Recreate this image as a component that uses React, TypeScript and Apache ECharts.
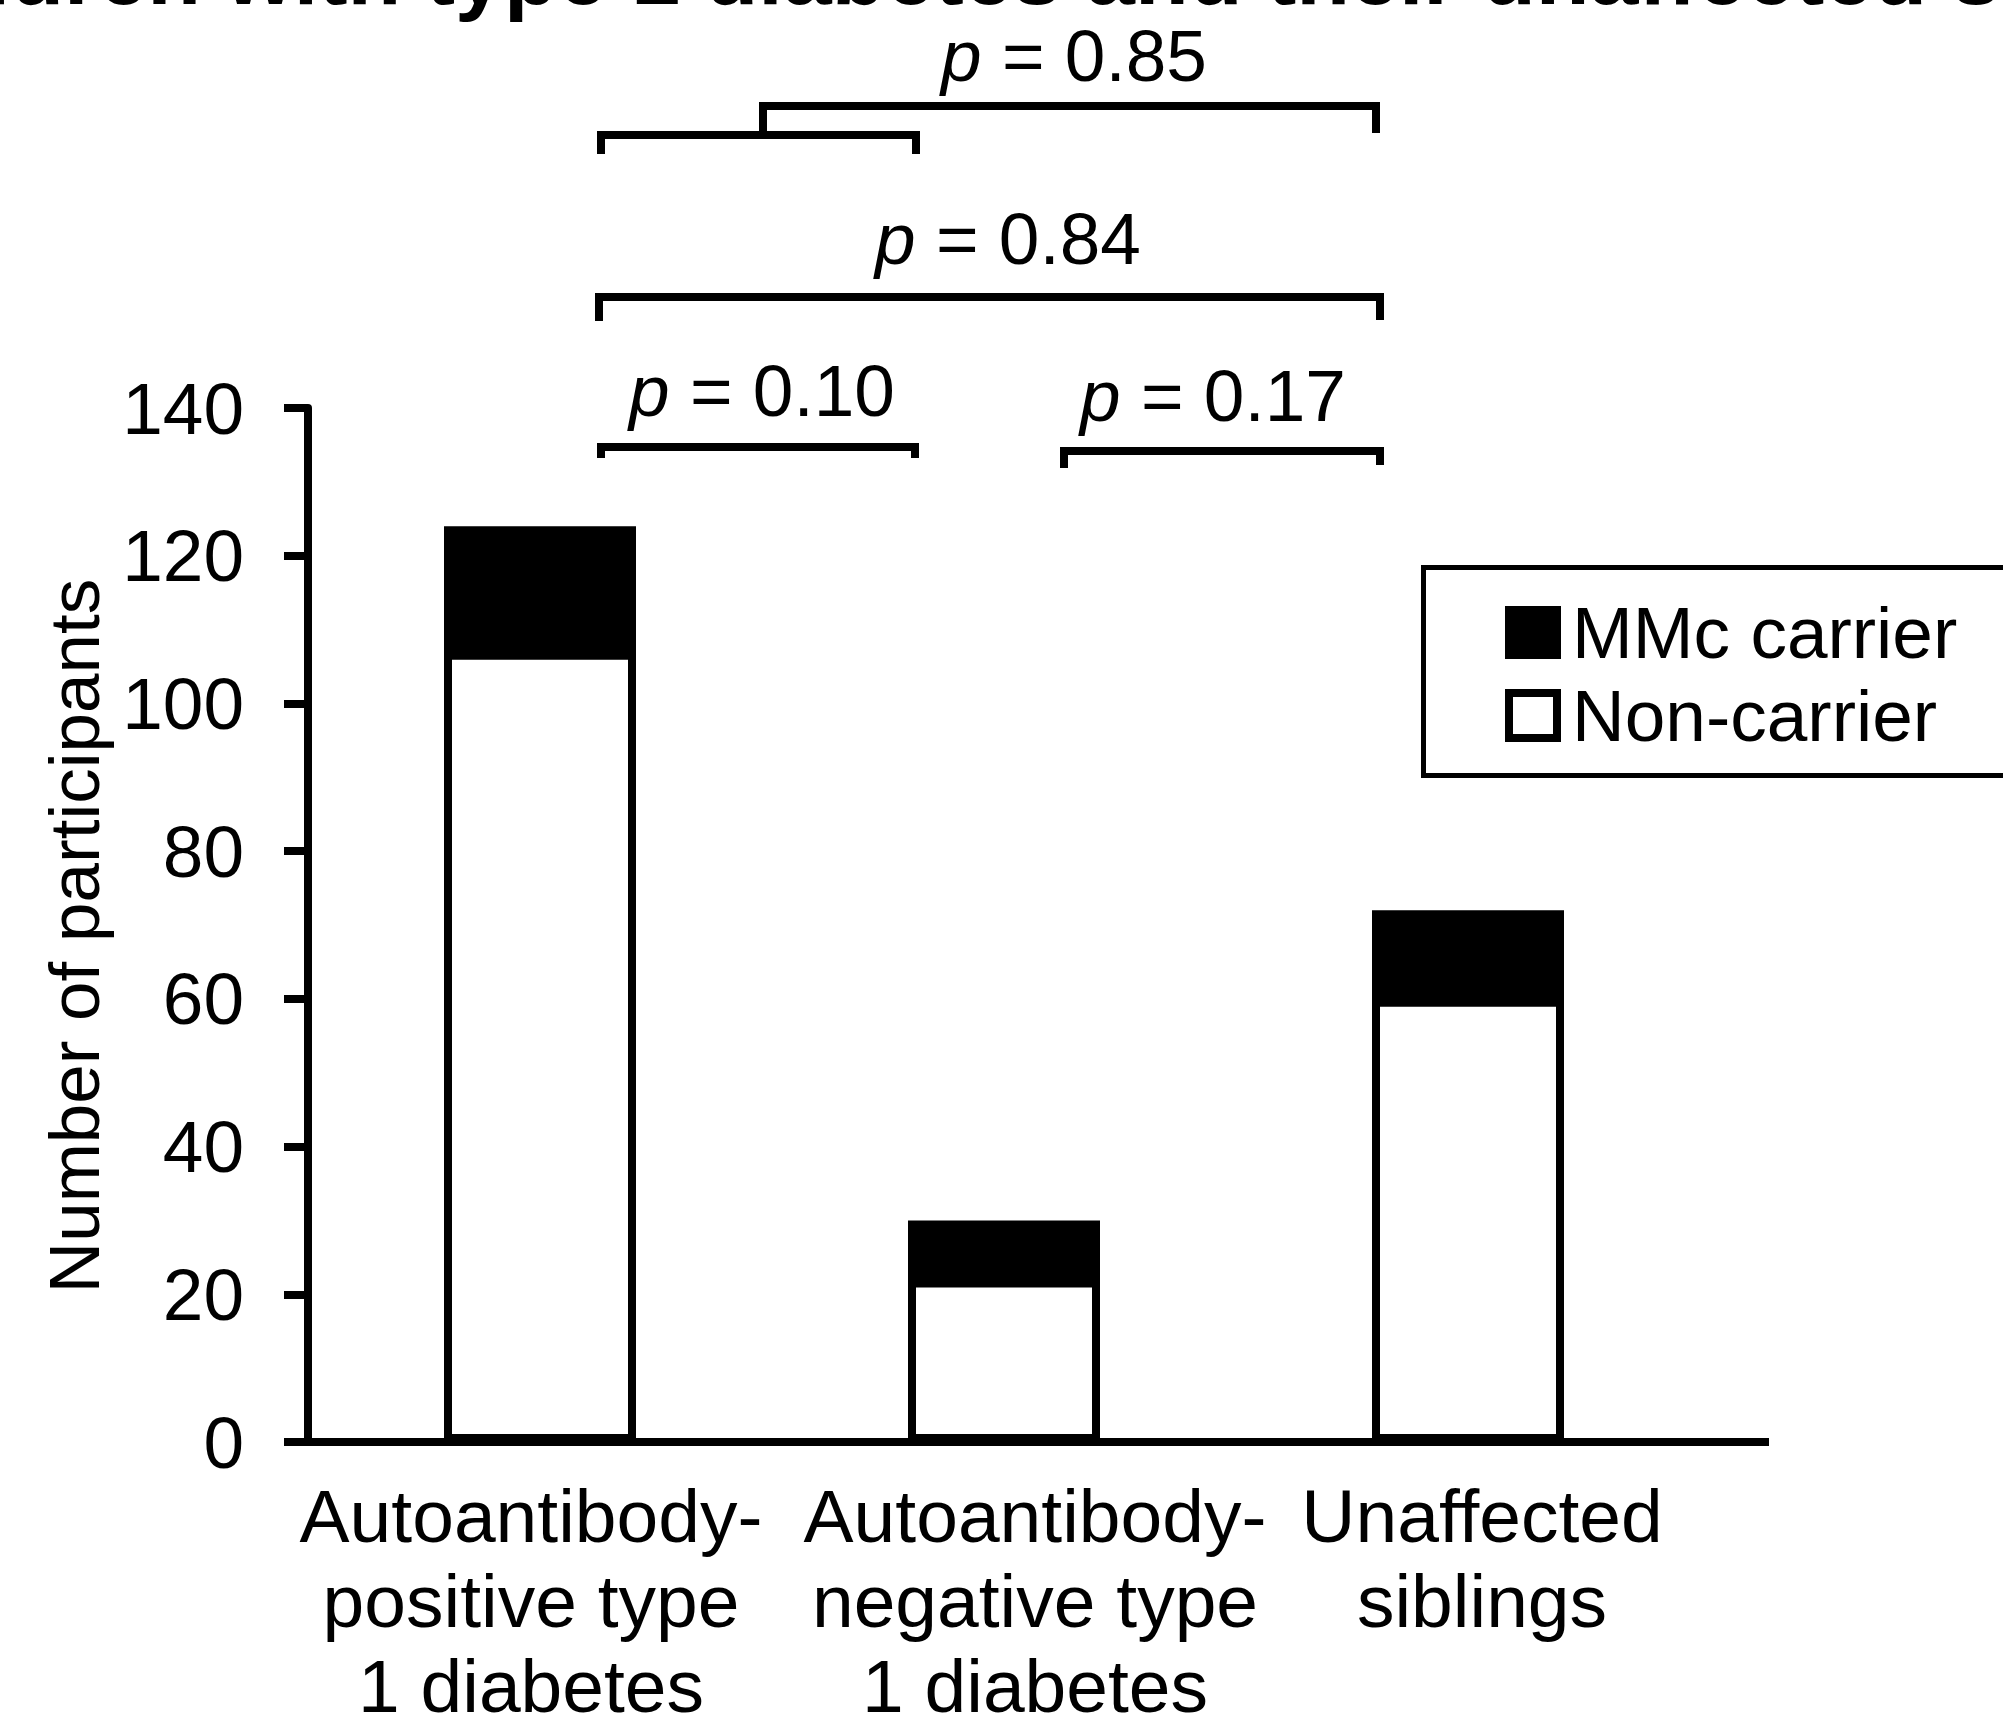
import React, { useEffect, useRef } from "react";
import * as echarts from "echarts";

// ---- data ----
const categories = [
  "Autoantibody-\npositive type\n1 diabetes",
  "Autoantibody-\nnegative type\n1 diabetes",
  "Unaffected\nsiblings",
];
const nonCarrier = [107, 22, 60];
const carrier = [17, 8, 12];
const seriesNames = ["MMc carrier", "Non-carrier"];
const pLabels = ["0.10", "0.17", "0.84", "0.85"];
const titleText = "Children with type 1 diabetes and their unaffected siblings";
const yAxisTitle = "Number of participants";

// ---- style / layout ----
const F = "'Liberation Sans', Arial, Helvetica, sans-serif";
const labelShift = [-9, 31, 14];
const GRID_LEFT = 308;
const GRID_TOP = 408;
const GRID_W = 1392;
const GRID_BOTTOM = 278;

export default function App() {
  const ref = useRef<HTMLDivElement>(null);
  useEffect(() => {
    if (!ref.current) return;
    const chart = echarts.init(ref.current, undefined, { renderer: "svg" });

    const pText = (v: string, x: number, baseline: number) => ({
      type: "text",
      x,
      y: baseline - 25,
      style: {
        text: "{i|p} = " + v,
        rich: { i: { fontStyle: "italic", fontSize: 73, fontFamily: F, fill: "#000" } },
        fontSize: 73,
        fontFamily: F,
        fill: "#000",
        align: "center",
        verticalAlign: "middle",
      },
    });
    const bracket = (pts: number[][]) => ({
      type: "polyline",
      shape: { points: pts },
      style: { stroke: "#000", lineWidth: 8, fill: "none", lineJoin: "miter", lineCap: "butt" },
    });

    // carrier segment sits on top of the non-carrier segment: the black bar spans the
    // full stacked height and the white non-carrier bar is drawn over its lower part
    const stackedTop = nonCarrier.map((v, i) => v + carrier[i]);

    chart.setOption({
      animation: false,
      backgroundColor: "#fff",
      grid: {
        left: GRID_LEFT,
        top: GRID_TOP,
        width: GRID_W,
        bottom: GRID_BOTTOM,
        containLabel: false,
        outerBoundsMode: "none",
      },
      legend: {
        orient: "vertical",
        left: 1505,
        top: 596,
        padding: 0,
        itemWidth: 48,
        itemHeight: 45,
        itemGap: 10,
        icon: "rect",
        selectedMode: false,
        data: seriesNames,
        itemStyle: { borderColor: "#000", borderWidth: 8 },
        textStyle: { fontSize: 73, fontFamily: F, color: "#000", lineHeight: 70, padding: [0, 0, 0, 10] },
      },
      xAxis: {
        type: "category",
        data: categories.map((c, i) => ({
          value: c,
          textStyle: {
            padding: labelShift[i] < 0 ? [0, -2 * labelShift[i], 0, 0] : [0, 0, 0, 2 * labelShift[i]],
          },
        })),
        axisLine: { show: true, lineStyle: { color: "#000", width: 8 } },
        axisTick: { show: false },
        axisLabel: {
          interval: 0,
          fontSize: 75,
          lineHeight: 85,
          fontFamily: F,
          color: "#000",
          margin: 31,
        },
        splitLine: { show: false },
      },
      yAxis: {
        type: "value",
        min: 0,
        max: 140,
        interval: 20,
        axisLine: { show: true, lineStyle: { color: "#000", width: 8 } },
        axisTick: { show: true, length: 24, lineStyle: { color: "#000", width: 8 } },
        axisLabel: { fontSize: 73, fontFamily: F, color: "#000", margin: 64 },
        splitLine: { show: false },
      },
      series: [
        {
          name: seriesNames[0],
          type: "bar",
          barWidth: 192,
          data: stackedTop,
          itemStyle: { color: "#000", borderColor: "#000", borderWidth: 8 },
        },
        {
          name: seriesNames[1],
          type: "bar",
          barWidth: 192,
          barGap: "-100%",
          data: nonCarrier,
          itemStyle: { color: "#fff", borderColor: "#000", borderWidth: 8 },
        },
      ],
    });

    const y0 = chart.convertToPixel({ yAxisIndex: 0 }, 0) as number;

    chart.setOption({
      graphic: [
        {
          type: "text",
          x: -156,
          y: -27,
          style: {
            text: titleText,
            fontSize: 88,
            fontWeight: "bold",
            fontFamily: F,
            fill: "#000",
            align: "left",
            verticalAlign: "middle",
          },
        },
        {
          type: "text",
          x: 74,
          y: 936,
          rotation: Math.PI / 2,
          style: {
            text: yAxisTitle,
            fontSize: 71,
            fontFamily: F,
            fill: "#000",
            align: "center",
            verticalAlign: "middle",
          },
        },
        {
          type: "line",
          shape: { x1: GRID_LEFT - 24, y1: y0, x2: 1769, y2: y0 },
          style: { stroke: "#000", lineWidth: 8 },
        },
        {
          type: "rect",
          shape: { x: 1423.5, y: 567.5, width: 700, height: 208 },
          style: { fill: "none", stroke: "#000", lineWidth: 5 },
        },
        bracket([[601, 458], [601, 447], [915, 447], [915, 458]]),
        bracket([[1064, 468], [1064, 451], [1380, 451], [1380, 465]]),
        bracket([[599, 321], [599, 297], [1380, 297], [1380, 320]]),
        bracket([[601, 154], [601, 135], [916, 135], [916, 154]]),
        bracket([[763, 135], [763, 106], [1376, 106], [1376, 133]]),
        pText(pLabels[0], 762, 415),
        pText(pLabels[1], 1213, 420),
        pText(pLabels[2], 1008, 263),
        pText(pLabels[3], 1074, 80),
      ],
    });

    return () => chart.dispose();
  }, []);

  return (
    <div
      ref={ref}
      style={{ position: "absolute", left: 0, top: 0, width: 2003, height: 1720, background: "#fff" }}
    />
  );
}
